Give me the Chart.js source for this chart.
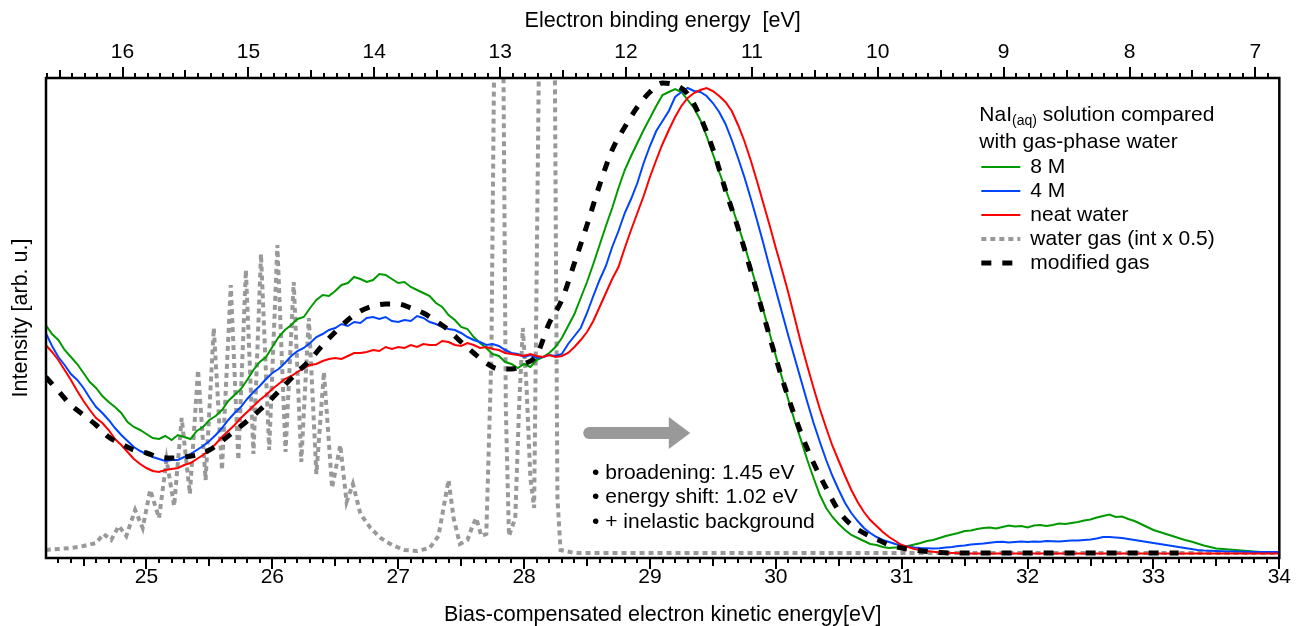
<!DOCTYPE html>
<html>
<head>
<meta charset="utf-8">
<script src="https://cdn.jsdelivr.net/npm/chart.js@4.4.0/dist/chart.umd.min.js"></script>
<style>
  html, body { margin: 0; padding: 0; background: #fff; }
  #wrap { width: 1298px; height: 626px; }
</style>
</head>
<body>
<div id="wrap"><canvas id="chart" width="1298" height="626"></canvas></div>
<script>
// kinetic energy grid of the liquid spectra [eV], 0.05 eV steps
const kineticEnergy = [
  24.20, 24.25, 24.30, 24.35, 24.40, 24.45, 24.50, 24.55, 24.60, 24.65,
  24.70, 24.75, 24.80, 24.85, 24.90, 24.95, 25.00, 25.05, 25.10, 25.15,
  25.20, 25.25, 25.30, 25.35, 25.40, 25.45, 25.50, 25.55, 25.60, 25.65,
  25.70, 25.75, 25.80, 25.85, 25.90, 25.95, 26.00, 26.05, 26.10, 26.15,
  26.20, 26.25, 26.30, 26.35, 26.40, 26.45, 26.50, 26.55, 26.60, 26.65,
  26.70, 26.75, 26.80, 26.85, 26.90, 26.95, 27.00, 27.05, 27.10, 27.15,
  27.20, 27.25, 27.30, 27.35, 27.40, 27.45, 27.50, 27.55, 27.60, 27.65,
  27.70, 27.75, 27.80, 27.85, 27.90, 27.95, 28.00, 28.05, 28.10, 28.15,
  28.20, 28.25, 28.30, 28.35, 28.40, 28.45, 28.50, 28.55, 28.60, 28.65,
  28.70, 28.75, 28.80, 28.85, 28.90, 28.95, 29.00, 29.05, 29.10, 29.15,
  29.20, 29.25, 29.30, 29.35, 29.40, 29.45, 29.50, 29.55, 29.60, 29.65,
  29.70, 29.75, 29.80, 29.85, 29.90, 29.95, 30.00, 30.05, 30.10, 30.15,
  30.20, 30.25, 30.30, 30.35, 30.40, 30.45, 30.50, 30.55, 30.60, 30.65,
  30.70, 30.75, 30.80, 30.85, 30.90, 30.95, 31.00, 31.05, 31.10, 31.15,
  31.20, 31.25, 31.30, 31.35, 31.40, 31.45, 31.50, 31.55, 31.60, 31.65,
  31.70, 31.75, 31.80, 31.85, 31.90, 31.95, 32.00, 32.05, 32.10, 32.15,
  32.20, 32.25, 32.30, 32.35, 32.40, 32.45, 32.50, 32.55, 32.60, 32.65,
  32.70, 32.75, 32.80, 32.85, 32.90, 32.95, 33.00, 33.05, 33.10, 33.15,
  33.20, 33.25, 33.30, 33.35, 33.40, 33.45, 33.50, 33.55, 33.60, 33.65,
  33.70, 33.75, 33.80, 33.85, 33.90, 33.95, 34.00
];

// 8 M NaI
const conc8M = [
  233, 224, 218, 208, 201, 194, 185, 176, 170, 162,
  156, 151, 145, 136, 131, 128, 124, 120, 119, 122,
  118, 123, 121, 119, 127, 131, 138, 142, 148, 157,
  163, 169, 178, 188, 196, 201, 211, 221, 228, 233,
  239, 241, 250, 258, 263, 262, 267, 273, 275, 281,
  279, 276, 278, 284, 283, 279, 275, 276, 271, 268,
  265, 262, 255, 251, 243, 238, 231, 229, 221, 215,
  210, 204, 202, 196, 194, 190, 194, 191, 198, 201,
  205, 211, 220, 232, 244, 260, 276, 294, 313, 332,
  350, 370, 388, 402, 415, 428, 440, 452, 463, 466,
  469, 466, 458, 450, 438, 422, 404, 386, 369, 352,
  333, 313, 292, 270, 248, 225, 202, 180, 158, 137,
  118, 98, 80, 63, 50, 41, 34, 28, 23, 20,
  17, 14, 13, 11, 10, 10.5, 11, 12, 13.5, 15,
  17, 18, 20, 22, 23.5, 25, 27, 27.5, 29, 30,
  30.5, 29.5, 31, 32.5, 31.5, 32, 30.5, 32.5, 33, 32,
  33, 34.5, 34, 35, 36, 37.5, 38.5, 40.5, 42, 43.5,
  41, 41.5, 39, 37, 34, 31, 28, 26, 24, 22,
  20, 18, 16.5, 14.5, 12.5, 11, 9.5, 9, 8.5, 8,
  7.5, 7, 6.5, 6, 5.5, 5.5, 5
];

// 4 M NaI
const conc4M = [
  225, 212, 201, 193, 184, 178, 170, 160, 151, 145,
  138, 130, 123, 117, 111, 107, 104, 101, 99, 97,
  98, 98, 101, 104, 108, 112, 117, 123, 130, 138,
  145, 151, 159, 166, 172, 179, 185, 189, 195, 202,
  207, 210, 215, 221, 224, 228, 230, 234, 232, 236,
  235, 240, 241, 239, 241, 237, 236, 238, 237, 242,
  240, 236, 234, 231, 229, 228, 225, 221, 218, 216,
  213, 214, 212, 208, 205, 204, 201, 203, 200, 201,
  203, 202, 204, 214, 222, 230, 245, 262, 278, 292,
  311, 327, 345, 359, 375, 395, 412, 427, 437, 447,
  461, 466, 470, 467, 466, 462, 455, 446, 434, 418,
  400, 381, 360, 338, 315, 291, 268, 245, 222, 200,
  178, 156, 135, 116, 98, 82, 68, 55, 45, 37,
  30, 25, 21, 18, 16, 14, 12.5, 11.5, 10.5, 10,
  9.7, 9.5, 9.7, 10.5, 11, 12, 12.5, 13.5, 14, 14.5,
  15.3, 16, 16.3, 15.5, 16, 16.5, 16, 16.5, 16.3, 17,
  16.7, 16.5, 17, 17.5, 17.5, 18, 18.5, 19.5, 21, 21,
  20.5, 20, 19, 18, 17, 16, 15, 14, 13, 12,
  11, 10, 9, 8, 7.5, 7.2, 7, 6.8, 6.5, 6.4,
  6.3, 6.2, 6, 6, 6, 6, 6
];

// neat water
const neatWater = [
  213, 206, 198, 188, 178, 167, 157, 148, 140, 135,
  128, 119, 113, 106, 99, 94, 90, 87, 86, 88,
  89, 90, 93, 95, 99, 103, 108, 114, 121, 127,
  133, 140, 146, 152, 158, 163, 169, 174, 179, 182,
  186, 190, 193, 194, 197, 199, 200, 199, 202, 205,
  205, 206, 208, 207, 211, 209, 211, 210, 213, 211,
  214, 213, 213, 217, 216, 213, 212, 215, 213, 210,
  211, 209, 208, 205, 204, 203, 202, 204, 202, 201,
  203, 201, 202, 205, 211, 218, 226, 237, 251, 265,
  279, 291, 310, 328, 345, 362, 381, 398, 414, 428,
  441, 452, 460, 465, 468, 470, 467, 462, 456, 447,
  433, 417, 398, 377, 355, 333, 310, 288, 265, 240,
  215, 192, 170, 149, 130, 112, 97, 82, 68, 56,
  46, 38, 32, 26, 21, 17, 13, 11, 9, 8,
  7, 6.2, 5.5, 5.2, 5, 4.8, 4.5, 4.5, 4.5, 4.5,
  4.5, 4.5, 4.5, 4.5, 4.5, 4.5, 4.5, 4.5, 4.5, 4.5,
  4.5, 4.5, 4.5, 4.5, 4.5, 4.5, 4.5, 4.5, 4.5, 4.5,
  4.5, 4.5, 4.5, 4.5, 4.5, 4.5, 4.5, 4.5, 4.5, 4.5,
  4.5, 4.5, 4.5, 4.5, 4.5, 4.5, 4.5, 4.5, 4.5, 4.5,
  4.5, 4.5, 4.5, 4.5, 4.5, 4.5, 4.5
];

// modified gas (broadened, shifted, + inelastic background), 0.1 eV steps to 33.2 eV
const modelEnergy = [
  24.2, 24.3, 24.4, 24.5, 24.6, 24.7, 24.8, 24.9, 25.0, 25.1,
  25.2, 25.3, 25.4, 25.5, 25.6, 25.7, 25.8, 25.9, 26.0, 26.1,
  26.2, 26.3, 26.4, 26.5, 26.6, 26.7, 26.8, 26.9, 27.0, 27.1,
  27.2, 27.3, 27.4, 27.5, 27.6, 27.7, 27.8, 27.9, 28.0, 28.1,
  28.2, 28.3, 28.4, 28.5, 28.6, 28.7, 28.8, 28.9, 29.0, 29.1,
  29.2, 29.3, 29.4, 29.5, 29.6, 29.7, 29.8, 29.9, 30.0, 30.1,
  30.2, 30.3, 30.4, 30.5, 30.6, 30.7, 30.8, 30.9, 31.0, 31.1,
  31.2, 31.3, 31.4, 31.5, 31.6, 31.7, 31.8, 31.9, 32.0, 32.1,
  32.2, 32.3, 32.4, 32.5, 32.6, 32.7, 32.8, 32.9, 33.0, 33.1,
  33.2
];
const modifiedGas = [
  181, 167, 153, 143, 133, 121, 114, 108, 105, 101,
  100, 101, 103, 108, 117, 127, 137, 148, 160, 173,
  186, 198, 213, 226, 238, 247, 252, 254, 254, 250,
  245, 237, 228, 216, 205, 195, 189, 189, 194, 203,
  235, 258, 295, 333, 373, 408, 431, 451, 466, 475,
  473, 464, 441, 409, 368, 330, 288, 244, 200, 160,
  125, 95, 70, 47, 33, 25, 19, 13, 10, 8,
  6.5, 5.5, 5, 5, 5, 5, 5, 5, 5, 5,
  5, 5, 5, 5, 5, 5, 5, 5, 5, 5,
  5
];

// water gas (int x 0.5), sharp vibrational structure
const gasEnergy = [
  24.20, 24.30, 24.40, 24.50, 24.60, 24.66, 24.72, 24.78, 24.84, 24.91,
  24.97, 25.03, 25.10, 25.16, 25.22, 25.28, 25.345, 25.41, 25.47, 25.535,
  25.60, 25.67, 25.73, 25.79, 25.85, 25.91, 25.975, 26.04, 26.105, 26.17,
  26.23, 26.29, 26.35, 26.41, 26.475, 26.54, 26.59, 26.64, 26.70, 26.78,
  26.86, 26.95, 27.05, 27.15, 27.25, 27.32, 27.36, 27.40, 27.44, 27.49,
  27.55, 27.59, 27.62, 27.66, 27.70, 27.74, 27.77, 27.80, 27.83, 27.855,
  27.88, 27.93, 27.96, 27.99, 28.02, 28.05, 28.08, 28.12, 28.19, 28.245,
  28.265, 28.29, 28.40, 29.00, 30.00, 31.00, 32.00, 33.00, 34.00
];
const gasIntensity = [
  8, 9, 10, 12, 15, 24, 18, 32, 22, 48,
  30, 68, 40, 98, 52, 140, 64, 188, 78, 230,
  88, 273, 98, 288, 104, 304, 108, 313, 106, 276,
  96, 240, 84, 186, 70, 113, 56, 74, 44, 30,
  20, 13, 8, 7, 10, 22, 50, 78, 40, 14,
  18, 32, 40, 22, 24, 200, 600, 700, 600, 150,
  22, 40, 150, 230, 170, 80, 50, 520, 1100, 480,
  60, 8, 5, 5, 5, 5, 5, 5, 5
];

// axes
const bottomTicks = [25, 26, 27, 28, 29, 30, 31, 32, 33, 34];
const topTicks = [16, 15, 14, 13, 12, 11, 10, 9, 8, 7];
const keMin = 24.202, keMax = 34.0;
const bindingOffset = 40.81; // binding energy = offset - kinetic energy
const yMax = 480;

// annotations
const noteLines = ['• broadening: 1.45 eV', '• energy shift: 1.02 eV', '• + inelastic background'];
const noteAnchor = [28.54, 85];
const arrowSpec = { from: 28.47, headFrom: 29.15, to: 29.32, level: 125 };
const legendEntries = ['8 M', '4 M', 'neat water', 'water gas (int x 0.5)', 'modified gas'];

const FONT = "'Liberation Sans', Arial, Helvetica, sans-serif";
const toPoints = (xs, ys) => ys.map((y, i) => ({ x: xs[i], y: y }));

function drawAxisTicks(ctx, scale, edgeY, dir) {
  const lo = Math.ceil(Math.min(scale.min, scale.max) * 10 - 1e-6);
  const hi = Math.floor(Math.max(scale.min, scale.max) * 10 + 1e-6);
  ctx.beginPath();
  for (let k = lo; k <= hi; k++) {
    const x = Math.round(scale.getPixelForValue(k / 10));
    const len = k % 10 === 0 ? 11 : (k % 5 === 0 ? 8 : 5);
    ctx.moveTo(x, edgeY);
    ctx.lineTo(x, edgeY + dir * len);
  }
  ctx.stroke();
}

const decorations = {
  id: 'decorations',
  afterDatasetsDraw(chart) {
    const { ctx, chartArea: a, scales } = chart;
    const xs = scales.x, ys = scales.y;
    ctx.save();

    // frame + tick marks
    ctx.strokeStyle = '#000';
    ctx.lineWidth = 2;
    drawAxisTicks(ctx, xs, a.bottom, 1);
    drawAxisTicks(ctx, scales.x2, a.top, -1);
    ctx.lineWidth = 2.5;
    ctx.strokeRect(a.left, a.top, a.right - a.left, a.bottom - a.top);

    // grey arrow
    const ay = ys.getPixelForValue(arrowSpec.level);
    const ax0 = xs.getPixelForValue(arrowSpec.from);
    const axh = xs.getPixelForValue(arrowSpec.headFrom);
    const ax1 = xs.getPixelForValue(arrowSpec.to);
    ctx.strokeStyle = '#999';
    ctx.fillStyle = '#999';
    ctx.lineWidth = 12;
    ctx.lineCap = 'round';
    ctx.beginPath();
    ctx.moveTo(ax0 + 6, ay);
    ctx.lineTo(axh + 2, ay);
    ctx.stroke();
    ctx.beginPath();
    ctx.moveTo(axh, ay - 16);
    ctx.lineTo(ax1, ay);
    ctx.lineTo(axh, ay + 16);
    ctx.closePath();
    ctx.fill();

    // notes
    ctx.fillStyle = '#000';
    ctx.font = '21px ' + FONT;
    ctx.textBaseline = 'middle';
    ctx.textAlign = 'left';
    const nx = xs.getPixelForValue(noteAnchor[0]);
    const ny = ys.getPixelForValue(noteAnchor[1]);
    noteLines.forEach((t, i) => ctx.fillText(t, nx, ny + i * 24.5));

    // legend
    const lx = a.right - 300, ly = a.top + 37;
    ctx.fillText('NaI', lx, ly);
    let w = ctx.measureText('NaI').width;
    ctx.font = '14px ' + FONT;
    ctx.fillText('(aq)', lx + w, ly + 6);
    w += ctx.measureText('(aq)').width;
    ctx.font = '21px ' + FONT;
    ctx.fillText(' solution compared', lx + w, ly);
    ctx.fillText('with gas-phase water', lx, ly + 27);
    ctx.lineCap = 'butt';
    legendEntries.forEach((label, i) => {
      const ds = chart.data.datasets.find(d => d.label === label);
      const y = ly + 52 + i * 24;
      ctx.strokeStyle = ds.borderColor;
      ctx.lineWidth = ds.borderWidth;
      ctx.setLineDash(ds.borderDash || []);
      ctx.beginPath();
      ctx.moveTo(lx + 2, y);
      ctx.lineTo(lx + 41, y);
      ctx.stroke();
      ctx.setLineDash([]);
      ctx.fillText(label, lx + 51, y);
    });
    ctx.restore();
  }
};

Chart.defaults.font.family = FONT;
Chart.defaults.font.size = 21;
Chart.defaults.color = '#000';

const titleFont = { size: 21.5 };

new Chart(document.getElementById('chart').getContext('2d'), {
  type: 'line',
  data: {
    datasets: [
      { label: 'modified gas', data: toPoints(modelEnergy, modifiedGas), borderColor: '#000',
        borderWidth: 5, borderDash: [10, 11], cubicInterpolationMode: 'monotone', pointRadius: 0 },
      { label: 'neat water', data: toPoints(kineticEnergy, neatWater), borderColor: '#ff0000',
        borderWidth: 2, pointRadius: 0 },
      { label: '4 M', data: toPoints(kineticEnergy, conc4M), borderColor: '#0044ff',
        borderWidth: 2, pointRadius: 0 },
      { label: '8 M', data: toPoints(kineticEnergy, conc8M), borderColor: '#009900',
        borderWidth: 2, pointRadius: 0 },
      { label: 'water gas (int x 0.5)', data: toPoints(gasEnergy, gasIntensity), borderColor: '#999999',
        borderWidth: 4, borderDash: [5, 4], pointRadius: 0 }
    ]
  },
  options: {
    responsive: false,
    animation: false,
    devicePixelRatio: 1,
    layout: { padding: { left: 0, right: 15, top: 0, bottom: 0 } },
    plugins: { legend: { display: false }, tooltip: { enabled: false } },
    scales: {
      x: {
        type: 'linear', position: 'bottom', min: keMin, max: keMax,
        grid: { display: false, drawTicks: false }, border: { display: false },
        ticks: { padding: 7, maxRotation: 0, autoSkip: false },
        afterBuildTicks: s => { s.ticks = bottomTicks.map(v => ({ value: v })); },
        afterFit: s => { s.height = 68; },
        title: { display: true, text: 'Bias-compensated electron kinetic energy[eV]', font: titleFont,
                 padding: { top: 0, bottom: -2 } }
      },
      x2: {
        type: 'linear', position: 'top', axis: 'x',
        min: bindingOffset - keMax, max: bindingOffset - keMin, reverse: true,
        grid: { display: false, drawTicks: false }, border: { display: false },
        ticks: { padding: 13, maxRotation: 0, autoSkip: false },
        afterBuildTicks: s => { s.ticks = topTicks.map(v => ({ value: v })); },
        afterFit: s => { s.height = 78; },
        title: { display: true, text: 'Electron binding energy  [eV]', font: titleFont,
                 padding: { top: 8, bottom: 0 } }
      },
      y: {
        type: 'linear', position: 'left', min: 0, max: yMax,
        grid: { display: false, drawTicks: false }, border: { display: false },
        ticks: { display: false },
        afterFit: s => { s.width = 46; },
        title: { display: true, text: 'Intensity [arb. u.]', font: titleFont,
                 padding: { top: 8, bottom: 0 } }
      }
    }
  },
  plugins: [decorations]
});
</script>
</body>
</html>
